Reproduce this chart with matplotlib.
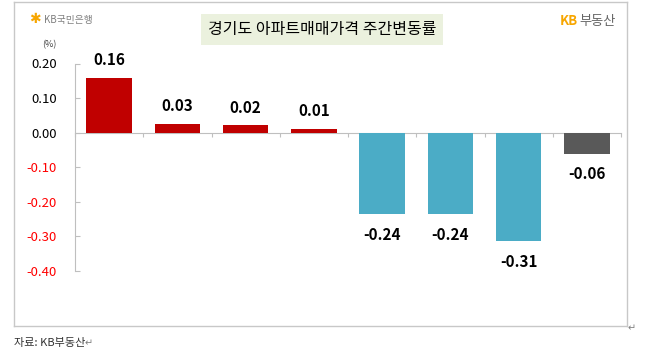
import matplotlib
matplotlib.use("Agg")
from matplotlib import pyplot as plt
from matplotlib.lines import Line2D
import numpy as np

plt.rcParams['font.family'] = ['Noto Sans CJK KR', 'DejaVu Sans']

# Data (bar heights, labels rounded to 2 decimals)
weeks = ["w1", "w2", "w3", "w4", "w5", "w6", "w7", "w8"]
changes = [0.159, 0.026, 0.022, 0.011, -0.236, -0.237, -0.314, -0.061]
bar_colors = ["#C00000", "#C00000", "#C00000", "#C00000",
              "#4BACC6", "#4BACC6", "#4BACC6", "#595959"]
yticks = [0.20, 0.10, 0.00, -0.10, -0.20, -0.30, -0.40]
title = "경기도 아파트매매가격 주간변동률"

W, H = 650, 364
fig = plt.figure(figsize=(W / 100, H / 100), dpi=100)

def fx(x):
    return x / W

def fy(y):
    return 1 - y / H

ax = fig.add_axes([fx(75), fy(270.7), fx(621) - fx(75), fy(63.5) - fy(270.7)])
x = np.arange(len(changes))
ax.bar(x, changes, width=0.67, color=bar_colors, zorder=3)
ax.set_xlim(-0.5, len(changes) - 0.5)
ax.set_ylim(-0.4, 0.2)

# labels on bars
for xi, v in zip(x, changes):
    off = 12.5 if v >= 0 else -15
    ax.annotate(f"{v:.2f}", (xi, v), xytext=(0, off), textcoords="offset points",
                ha="center", va="center", fontsize=11, fontweight="bold")

# axes styling
for s in ["top", "right"]:
    ax.spines[s].set_visible(False)
ax.spines["left"].set_color("#BFBFBF")
ax.spines["bottom"].set_color("#BFBFBF")
ax.spines["bottom"].set_position(("data", 0))
ax.set_xticks(np.arange(-0.5, len(changes), 1.0))
ax.tick_params(axis="x", direction="out", length=2.7, color="#BFBFBF", labelbottom=False)
ax.set_yticks(yticks)
ax.set_yticklabels([f"{t:.2f}" for t in yticks], fontsize=9.5, fontweight="medium")
ax.tick_params(axis="y", direction="in", length=3.6, color="#BFBFBF", pad=13)
for lab, t in zip(ax.get_yticklabels(), yticks):
    lab.set_color("red" if t < 0 else "black")

fig.text(fx(49), fy(45), "(%)", fontsize=6.5, color="#404040", ha="center", va="center")

# title box
fig.text(fx(322), fy(29.5), title, fontsize=11.5, ha="center", va="center",
         bbox=dict(boxstyle="square,pad=0.45", fc="#EBF1DE", ec="none"))

# logos
fig.text(fx(35), fy(19), "✱", fontsize=10, color="#F7A600", ha="center", va="center")
fig.text(fx(44), fy(19.5), "KB국민은행", fontsize=7, color="#7F7F7F", ha="left", va="center")
fig.text(fx(578), fy(21), "KB", fontsize=9.5, color="#F7A600", fontweight="bold",
         ha="right", va="center")
fig.text(fx(579), fy(21), "부동산", fontsize=9.5, color="#666666", ha="left", va="center")

# outer frame
frame = dict(color="#C8C8C8", linewidth=1)
fig.add_artist(Line2D([fx(14), fx(627)], [fy(1.5), fy(1.5)], **frame))
fig.add_artist(Line2D([fx(14), fx(14)], [fy(1.5), fy(326)], **frame))
fig.add_artist(Line2D([fx(627), fx(627)], [fy(1.5), fy(326)], **frame))
fig.add_artist(Line2D([fx(14), fx(627)], [fy(326), fy(326)], **frame))
fig.text(fx(628), fy(328), "↵", fontsize=7, color="#808080", ha="left", va="center")

fig.text(fx(14), fy(343), "자료: KB부동산", fontsize=8, color="#333333",
         ha="left", va="center")
fig.text(fx(85), fy(343), "↵", fontsize=7, color="#808080", ha="left", va="center")

fig.savefig("out.png", dpi=100)
